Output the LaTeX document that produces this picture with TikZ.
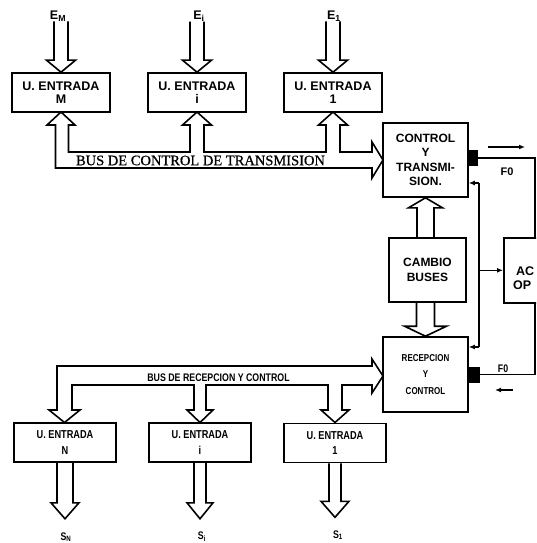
\documentclass[tikz,border=0pt]{standalone}
\usepackage{fontspec}
\setmainfont{Liberation Sans}
\newfontfamily\busserif[FakeBold=0.6]{Liberation Serif}
\newfontfamily\narrowfont[FakeStretch=0.8]{Liberation Sans}
\usetikzlibrary{calc,arrows.meta}

% hollow vertical arrow: tail point, tip point, shaft half width, head half width, head length
\newcommand{\hollowarrow}[5]{%
  \draw[bus] let \p1=(#1), \p2=(#2), \n1={sign(\y2-\y1)} in
    ({\x2-#3},\y1) -- ({\x2-#3},{\y2-(\n1)*#5}) -- ({\x2-#4},{\y2-(\n1)*#5})
    -- (\x2,\y2) -- ({\x2+#4},{\y2-(\n1)*#5}) -- ({\x2+#3},{\y2-(\n1)*#5})
    -- ({\x2+#3},\y1);}

\begin{document}
\begin{tikzpicture}
        [x=1pt, y=-1pt,
        unit/.style={draw, line width=1.6pt, inner sep=0pt, minimum width=98, minimum height=39, align=center, font=\bfseries\fontsize{12.5}{13}\selectfont},
        outunit/.style={unit, minimum width=102, font=\narrowfont\bfseries\fontsize{11.5}{15.5}\selectfont},
        block/.style={draw, line width=1.6pt, inner sep=0pt, align=center, font=\bfseries\fontsize{12}{14.5}\selectfont},
        bus/.style={line width=1.6pt, line join=miter},
        wire/.style={line width=1.4pt},
        sig/.style={line width=1.4pt, -{Latex[length=6pt,width=5pt]}},
        lbl/.style={inner sep=0pt, font=\bfseries\fontsize{12.5}{12.5}\selectfont},
        narrowlbl/.style={inner sep=0pt, font=\narrowfont\bfseries\fontsize{11}{11}\selectfont}]

        \useasboundingbox (0,0) rectangle (536,543);
        \clip (0,0) rectangle (536,543);

        % input units
        \node[unit] (inM) at (61,92.5) {U. ENTRADA\\M};
        \node[unit] (ini) at (197,92.5) {U. ENTRADA\\i};
        \node[unit] (inone) at (333,92.5) {U. ENTRADA\\1};

        \node[lbl] (eM) at (58,16) {E\textsubscript{M}};
        \node[lbl] (ei) at (199,16) {E\textsubscript{i}};
        \node[lbl] (eone) at (334,16) {E\textsubscript{1}};

        \hollowarrow{eM.south}{inM.north}{7pt}{14.5pt}{12pt}
        \hollowarrow{ei.south}{ini.north}{7pt}{14.5pt}{12pt}
        \hollowarrow{eone.south}{inone.north}{7pt}{14.5pt}{12pt}

        % control and coupling blocks
        \node[block, minimum width=85, minimum height=74] (ctrl) at (425.5,160) {CONTROL\\Y\\TRANSMI-\\SION.};
        \node[block, minimum width=77, minimum height=64] (cambio) at (427.5,270) {CAMBIO\\BUSES};
        \node[block, minimum width=85, minimum height=75, font=\narrowfont\bfseries\fontsize{10}{16.5}\selectfont] (recep) at (425.5,374.5) {RECEPCION\\Y\\CONTROL};
        \node[block, minimum width=70, minimum height=65, anchor=north west] (aco) at (503,237) {};
        \node[lbl, anchor=west] (acot) at (516,271) {AC};
        \node[lbl, anchor=west] (acob) at (513,285) {OP};

        \hollowarrow{cambio.north}{ctrl.south}{8.5pt}{17pt}{10pt}
        \hollowarrow{cambio.south}{recep.north}{9pt}{21pt}{10pt}

        % transmission bus
        \draw[bus] (55.5,168) -- (55.5,125) -- (47,125) -- (61,112) -- (75,125) -- (68.5,125)
            -- (68.5,152) -- (190,152) -- (190,125) -- (182.5,125) -- (197,112) -- (211.5,125) -- (204,125)
            -- (204,152) -- (326,152) -- (326,125) -- (318.5,125) -- (333,112) -- (347.5,125) -- (340,125)
            -- (340,152) -- (372,152) -- (372,142) -- (383,160) -- (372,178) -- (372,168) -- cycle;
        \node[inner sep=0pt, font=\busserif\fontsize{14.5}{14.5}\selectfont] (bct) at (200.5,160.5) {BUS DE CONTROL DE TRANSMISION};

        % reception bus
        \draw[bus] (57,366) -- (372,366) -- (372,359) -- (383,376) -- (372,393) -- (372,385)
            -- (342,385) -- (342,410) -- (349,410) -- (335,422.5) -- (321,410) -- (328,410)
            -- (328,385) -- (206,385) -- (206,410) -- (213,410) -- (200,422.5) -- (187,410) -- (194,410)
            -- (194,385) -- (72,385) -- (72,410) -- (80,410) -- (64.5,422.5) -- (49,410) -- (57,410) -- cycle;
        \node[narrowlbl] (brc) at (218.5,378) {BUS DE RECEPCION Y CONTROL};

        % output units
        \node[outunit] (outM) at (65,442.5) {U. ENTRADA\\N};
        \node[outunit] (outi) at (200,442.5) {U. ENTRADA\\i};
        \node[outunit] (outone) at (335,443) {U. ENTRADA\\1};

        \node[narrowlbl] (sN) at (66,537) {S\textsubscript{N}};
        \node[narrowlbl] (si) at (202,537) {S\textsubscript{i}};
        \node[narrowlbl] (sone) at (338,535) {S\textsubscript{1}};

        \hollowarrow{outM.south}{$(outM.south)+(0,56)$}{8pt}{14pt}{16pt}
        \hollowarrow{outi.south}{$(outi.south)+(0,56)$}{6pt}{13pt}{16pt}
        \hollowarrow{outone.south}{$(outone.south)+(0,54)$}{6pt}{14pt}{16pt}

        % fibre ports
        \node[fill=black, inner sep=0pt, minimum width=9, minimum height=16, anchor=west] (sqt) at ($(ctrl.east)+(0,-2)$) {};
        \node[fill=black, inner sep=0pt, minimum width=11, minimum height=16, anchor=west] (sqb) at (recep.east) {};
        \coordinate (rx) at (535,0);
        \draw[wire] (sqt.east) -- (sqt.east -| rx) -- (aco.north -| rx);
        \draw[wire] (sqb.east) -- (sqb.east -| rx) -- (aco.south -| rx);
        \node[lbl, font=\bfseries\fontsize{11}{11}\selectfont] (fot) at (507,172) {F0};
        \node[narrowlbl] (fob) at (503,369) {F0};

        \coordinate (dt1) at (488,147);
        \coordinate (dt2) at (525,147);
        \coordinate (db1) at (513,390);
        \coordinate (db2) at (495,390);
        \draw[sig] (dt1) -- (dt2);
        \draw[sig] (db1) -- (db2);

        % control lines
        \coordinate (jt) at (479,183);
        \coordinate (jb) at (479,347);
        \draw[wire] (jt) -- (jb);
        \draw[sig] (jt) -- (ctrl.east |- jt);
        \draw[sig] (jb) -- (recep.east |- jb);
        \draw[sig] (jt |- aco.west) -- (aco.west);

\end{tikzpicture}
\end{document}
